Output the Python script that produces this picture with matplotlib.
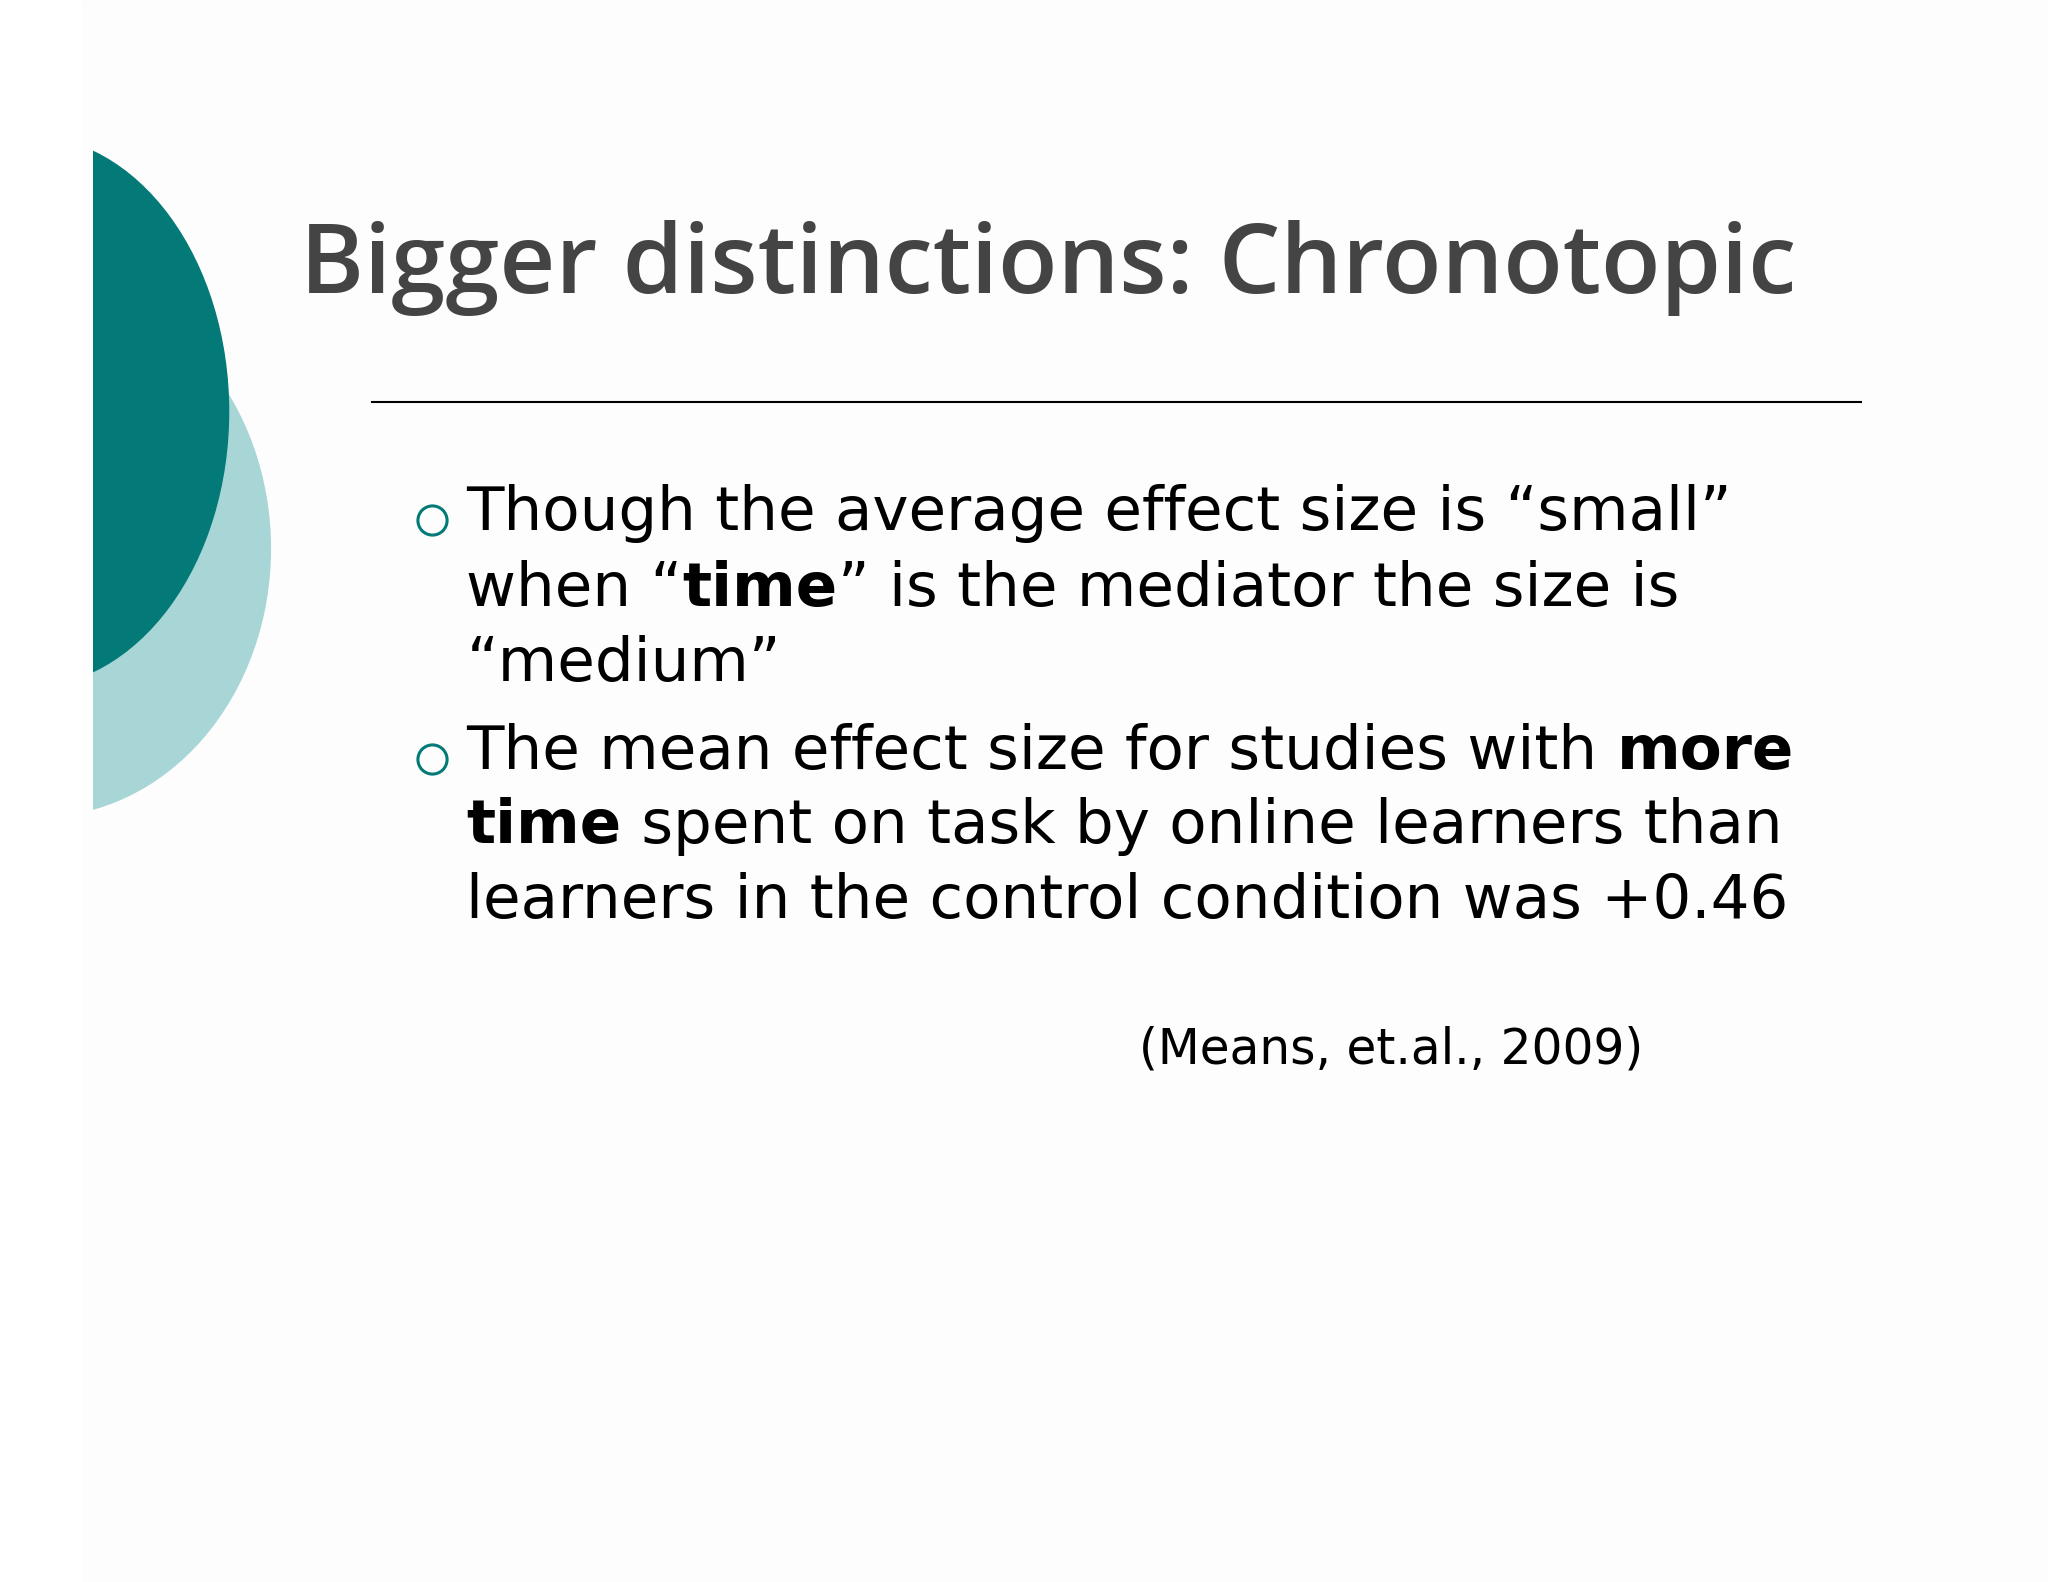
import matplotlib
matplotlib.use("Agg")
import matplotlib.pyplot as plt
from matplotlib.patches import Ellipse, Rectangle

W, H = 1568, 1211
title = "Bigger distinctions: Chronotopic"
bullet_lines = [
    [[("Though the average effect size is \u201csmall\u201d", "normal")],
     [("when \u201c", "normal"), ("time", "bold"), ("\u201d is the mediator the size is", "normal")],
     [("\u201cmedium\u201d", "normal")]],
    [[("The mean effect size for studies with ", "normal"), ("more", "bold")],
     [("time", "bold"), (" spent on task by online learners than", "normal")],
     [("learners in the control condition was +0.46", "normal")]],
]
line_y = [[393, 451, 509], [576, 633, 690]]
citation = "(Means, et.al., 2009)"

fig = plt.figure(figsize=(20.48, 15.82), dpi=100)
fig.patch.set_facecolor("#fdfdfd")
ax = fig.add_axes([0, 0, 1, 1])
ax.set_xlim(0, W); ax.set_ylim(H, 0); ax.axis("off")
ax.add_patch(Rectangle((0, 0), 62, H, color="white", zorder=0))
clip = Rectangle((71, 0), W, H, transform=ax.transData)
e1 = Ellipse((30, 420), 354, 410, color="#a8d5d6", zorder=1)
e2 = Ellipse((20, 315), 310, 422, color="#037a78", zorder=2)
for e in (e1, e2):
    ax.add_patch(e); e.set_clip_path(clip)

ax.text(230, 205, title, fontsize=70, color="#444444", family="Open Sans",
        fontweight="semibold", va="center", ha="left")
ax.plot([285, 1425], [308, 308], color="black", lw=1.5)

fig.canvas.draw()
r = fig.canvas.get_renderer()
inv = ax.transData.inverted()
for b, lines in enumerate(bullet_lines):
    ax.plot(331, line_y[b][0] + 5, marker="o", ms=21, mfc="none",
            mec="#037a78", mew=2.2)
    for li, pieces in enumerate(lines):
        x = 357
        for txt, wgt in pieces:
            t = ax.text(x, line_y[b][li], txt, fontsize=44, fontweight=wgt,
                        family="DejaVu Sans", va="center", ha="left", color="black")
            bb = t.get_window_extent(r)
            x = inv.transform((bb.x1, bb.y0))[0]
ax.text(872, 803, citation, fontsize=35, family="DejaVu Sans", va="center",
        ha="left", color="black")
fig.savefig("out.png", dpi=100, facecolor=fig.get_facecolor())
